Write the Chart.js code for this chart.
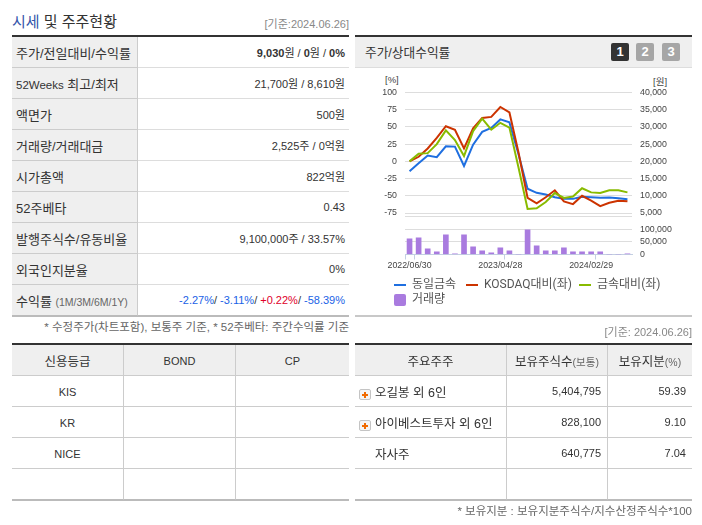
<!DOCTYPE html>
<html lang="ko">
<head>
<meta charset="utf-8">
<script src="https://cdn.jsdelivr.net/npm/chart.js@4"></script>
<style>
html, body { margin: 0; padding: 0; background: #fff; }
body { width: 702px; height: 525px; position: relative; overflow: hidden; font-family: "Liberation Sans", "Noto Sans CJK KR", sans-serif; color: #333; }
.abs { position: absolute; white-space: nowrap; }
table { position: absolute; border-collapse: separate; border-spacing: 0; table-layout: fixed; border-top: 2px solid #333; border-bottom: 1px solid #bbb; }
td, th { box-sizing: border-box; height: 31px; padding: 0; font-weight: normal; border-bottom: 1px solid #ccc; white-space: nowrap; overflow: hidden; }
.info th { background: #efefef; text-align: left; padding-left: 4px; font-size: 13px; border-right: 1px solid #ccc; }
.info td { text-align: right; padding-right: 4px; font-size: 11px; border-bottom-color: #ddd; }
.info tr:last-child th, .info tr:last-child td, .grid tr:last-child td { border-bottom: 1px solid #bbb; }
.grid th { background: #efefef; font-size: 12.5px; text-align: center; border-right: 1px solid #ccc; }
.grid td { border-right: 1px solid #ccc; text-align: center; font-size: 12.5px; }
.grid th:last-child, .grid td:last-child { border-right: 0; }
.grid td.num { text-align: right; padding-right: 6px; font-size: 11px; }
.grid td.name { text-align: left; padding-left: 20px; font-size: 12.5px; position: relative; }
.latin th, .latin td { font-size: 11px; padding-top: 2px; }
.latin th.ko { font-size: 12.5px; padding-top: 0; }
.plus { position: absolute; left: 4px; top: 13px; width: 12px; height: 11px; box-sizing: border-box; border: 1px solid #c4c4c4; border-radius: 2px; background: linear-gradient(#f06a00, #f06a00) center / 6px 2px no-repeat, linear-gradient(#f06a00, #f06a00) center / 2px 6px no-repeat, #f4f4f4; }
small { font-size: 10.5px; color: #666; }
.btn { position: absolute; top: 43px; width: 18px; height: 18px; border-radius: 2px; background: #a6a6a6; color: #fff; font: bold 13px/18px "Liberation Sans"; text-align: center; }
.leg { position: absolute; font-family: Roboto, "Noto Sans CJK KR", sans-serif; font-size: 12px; color: #555; line-height: 15px; white-space: nowrap; }
.leg i { display: inline-block; width: 12px; margin-right: 6px; vertical-align: middle; }
#chartBox { position: absolute; left: 376px; top: 66px; width: 308px; height: 225px; }
</style>
</head>
<body>
<div class="abs" style="left:12px;top:13px;font-size:15px;line-height:18px"><span style="color:#3355aa">시세</span> 및 주주현황</div>
<div class="abs" style="right:353px;top:15px;font-size:11px;color:#888">[기준:2024.06.26]</div>

<table class="info" style="left:12px;top:35px;width:337px">
<colgroup><col style="width:126px"><col></colgroup>
<tr><th>주가/전일대비/수익률</th><td><b>9,030</b>원 / <b>0</b>원 / <b>0%</b></td></tr>
<tr><th><span style="font-size:11.5px">52Weeks</span> 최고/최저</th><td>21,700원 / 8,610원</td></tr>
<tr><th>액면가</th><td>500원</td></tr>
<tr><th>거래량/거래대금</th><td>2,525주 / 0억원</td></tr>
<tr><th>시가총액</th><td>822억원</td></tr>
<tr><th>52주베타</th><td>0.43</td></tr>
<tr><th>발행주식수/유동비율</th><td>9,100,000주 / 33.57%</td></tr>
<tr><th>외국인지분율</th><td>0%</td></tr>
<tr><th>수익률 <small>(1M/3M/6M/1Y)</small></th><td><span style="color:#1a62e6">-2.27%</span>/ <span style="color:#1a62e6">-3.11%</span>/ <span style="color:#e0002a">+0.22%</span>/ <span style="color:#1a62e6">-58.39%</span></td></tr>
</table>
<div class="abs" style="right:353px;top:318px;font-size:11.5px;color:#666">* 수정주가(차트포함), 보통주 기준, * 52주베타: 주간수익률 기준</div>

<table class="grid latin" style="left:12px;top:343px;width:337px">
<colgroup><col style="width:112px"><col style="width:112px"><col></colgroup>
<tr><th class="ko">신용등급</th><th>BOND</th><th>CP</th></tr>
<tr><td>KIS</td><td></td><td></td></tr>
<tr><td>KR</td><td></td><td></td></tr>
<tr><td>NICE</td><td></td><td></td></tr>
<tr><td></td><td></td><td></td></tr>
</table>

<div class="abs" style="left:355px;top:35px;width:337px;height:2px;background:#333"></div>
<div class="abs" style="left:355px;top:37px;width:337px;height:30px;background:#efefef;border-bottom:1px solid #ddd"></div>
<div class="abs" style="left:365px;top:45px;font-size:12.7px;line-height:16px">주가/상대수익률</div>
<div class="btn" style="left:611px;background:#333">1</div>
<div class="btn" style="left:636px">2</div>
<div class="btn" style="left:662px">3</div>
<div class="abs" style="left:385px;top:74px;font-size:9.5px;color:#444">[%]</div>
<div class="abs" style="left:653px;top:74px;font-size:9.5px;color:#444">[원]</div>

<div id="chartBox"><canvas id="priceChart" width="308" height="225"></canvas></div>
<div id="legend"></div>
<div class="abs" style="left:355px;top:315px;width:337px;height:2px;background:#c8c8c8"></div>
<div class="abs" style="right:10px;top:323px;font-size:11px;color:#888">[기준: 2024.06.26]</div>

<table class="grid" style="left:355px;top:343px;width:337px">
<colgroup><col style="width:152px"><col style="width:101px"><col></colgroup>
<tr><th>주요주주</th><th>보유주식수<small>(보통)</small></th><th>보유지분<small>(%)</small></th></tr>
<tr><td class="name"><span class="plus"></span>오길봉 외 6인</td><td class="num">5,404,795</td><td class="num">59.39</td></tr>
<tr><td class="name"><span class="plus"></span>아이베스트투자 외 6인</td><td class="num">828,100</td><td class="num">9.10</td></tr>
<tr><td class="name">자사주</td><td class="num">640,775</td><td class="num">7.04</td></tr>
<tr><td></td><td></td><td></td></tr>
</table>
<div class="abs" style="right:10px;top:502px;font-size:11.5px;color:#666">* 보유지분 : 보유지분주식수/지수산정주식수*100</div>

<script>
const dates = [
    "2022/06/30", "2022/07/29", "2022/08/31", "2022/09/30", "2022/10/31",
    "2022/11/30", "2022/12/29", "2023/01/31", "2023/02/28", "2023/03/31",
    "2023/04/28", "2023/05/31", "2023/06/30", "2023/07/31", "2023/08/31",
    "2023/09/27", "2023/10/31", "2023/11/30", "2023/12/28", "2024/01/31",
    "2024/02/29", "2024/03/29", "2024/04/30", "2024/05/31", "2024/06/26"
]

// won, right axis
const price = [17140, 19430, 21710, 21240, 24380, 24290, 18670, 24860, 28570, 29710, 32190, 31330, 22100,
    12060, 10880, 10390, 9610, 9120, 9120, 9700, 9610, 9410, 9510, 9310, 9030]
// %, left axis
const kosdaqRel = [0, 6.7, 18.7, 34, 51, 46, 18.7, 48, 63, 64.6, 79, 71, 13,
    -53, -61, -52, -42, -58, -62, -50, -57, -65, -60, -57, -58]
const metalRel = [0, 11, 12, 25, 45, 31, 7.7, 44, 62, 46, 56, 49, -9,
    -69, -68, -59, -46, -53, -51, -39, -45, -46, -42, -42, -45]
const volume = [61800, 65800, 22400, 10500, 77600, 2600, 77600, 30300, 14500, 6600, 26300, 14500, 0,
    97400, 34200, 14500, 14500, 26300, 10500, 10500, 10500, 10500, 0, 0, 2600]

const pctTicks = [100, 75, 50, 25, 0, -25, -50, -75, -80]
const wonTicks = [40000, 35000, 30000, 25000, 20000, 15000, 10000, 5000]
const volTicks = [100000, 50000, 0]
const labelEvery = 10
const xTickMarks = [0, 1, 11, 21]

const tickFont = { family: '"Liberation Sans", sans-serif', size: 8.8 }
const gridColor = "#dddddd"

function setTicks(list) {
    return function (scale) {
        scale.ticks = list.map(v => ({ value: v }))
    }
}
function fixWidth(w) {
    return function (scale) { scale.width = w }
}

const data = {
    labels: dates,
    datasets: [
        { type: "line", label: "동일금속", data: price, yAxisID: "won", borderColor: "#1f6fe0", order: 3 },
        { type: "line", label: "KOSDAQ대비(좌)", data: kosdaqRel, yAxisID: "pct", borderColor: "#cc3300", order: 2 },
        { type: "line", label: "금속대비(좌)", data: metalRel, yAxisID: "pct", borderColor: "#88bb00", order: 1 },
        { type: "bar", label: "거래량", data: volume, yAxisID: "vol", backgroundColor: "#a97bdf", barThickness: 5, order: 4 }
    ]
}

const config = {
    type: "bar",
    data: data,
    options: {
        responsive: false,
        animation: false,
        layout: { padding: { top: 26.5 } },
        elements: {
            line: { borderWidth: 2, tension: 0 },
            point: { radius: 0 }
        },
        plugins: {
            legend: { display: false },
            tooltip: { enabled: false }
        },
        scales: {
            x: {
                offset: true,
                afterFit: function (scale) { scale.height = 36.5 },
                border: { color: "#c3d0e2" },
                grid: {
                    offset: true,
                    drawOnChartArea: false,
                    tickLength: 5,
                    color: ctx => xTickMarks.includes(ctx.index) ? "#c3d0e2" : "rgba(0,0,0,0)"
                },
                ticks: {
                    autoSkip: false,
                    maxRotation: 0,
                    padding: 1,
                    color: "#444",
                    font: tickFont,
                    callback: function (v, i) { return i % labelEvery === 0 ? dates[i] : "" }
                }
            },
            // left stack fills from the last scale up, so the spacer goes first
            spacer: {
                position: "left", stack: "left", stackWeight: 38,
                min: 0, max: 1,
                afterFit: fixWidth(29),
                border: { display: false },
                grid: { display: false, drawTicks: false },
                ticks: { display: false }
            },
            pct: {
                position: "left", stack: "left", stackWeight: 124,
                min: -80, max: 100,
                afterBuildTicks: setTicks(pctTicks),
                afterFit: fixWidth(29),
                border: { display: false },
                grid: { color: gridColor, drawTicks: false },
                ticks: {
                    autoSkip: false,
                    padding: 8, color: "#444", font: tickFont,
                    callback: v => v === -80 ? "" : v
                }
            },
            won: {
                position: "right", stack: "right", stackWeight: 124,
                min: 4000, max: 40000,
                afterBuildTicks: setTicks(wonTicks),
                afterFit: fixWidth(52),
                border: { display: false },
                grid: { display: false, drawTicks: false },
                ticks: {
                    autoSkip: false,
                    padding: 8, color: "#444", font: tickFont,
                    callback: v => v.toLocaleString("en-US")
                }
            },
            vol: {
                position: "right", stack: "right", stackWeight: 38,
                min: 0, max: 150000,
                afterBuildTicks: setTicks(volTicks),
                afterFit: fixWidth(52),
                border: { display: false },
                grid: {
                    drawTicks: false,
                    color: ctx => ctx.tick && ctx.tick.value === 0 ? "rgba(0,0,0,0)" : gridColor
                },
                ticks: {
                    autoSkip: false,
                    padding: 8, color: "#444", font: tickFont,
                    callback: v => v.toLocaleString("en-US")
                }
            }
        }
    }
}

const priceChart = new Chart(document.getElementById("priceChart"), config)

// legend sits in html, the row gap can't be this tight with the built-in one
const legendSpots = [[394, 277], [466, 277], [579, 277], [394, 292]]
data.datasets.forEach(function (ds, i) {
    const el = document.createElement("div")
    el.className = "leg"
    el.style.left = legendSpots[i][0] + "px"
    el.style.top = legendSpots[i][1] + "px"
    const mark = document.createElement("i")
    if (ds.type === "bar") {
        mark.style.height = "12px"
        mark.style.borderRadius = "2px"
        mark.style.background = ds.backgroundColor
    } else {
        mark.style.height = "2px"
        mark.style.background = ds.borderColor
    }
    el.appendChild(mark)
    el.appendChild(document.createTextNode(ds.label))
    document.getElementById("legend").appendChild(el)
})
</script>
</body>
</html>
